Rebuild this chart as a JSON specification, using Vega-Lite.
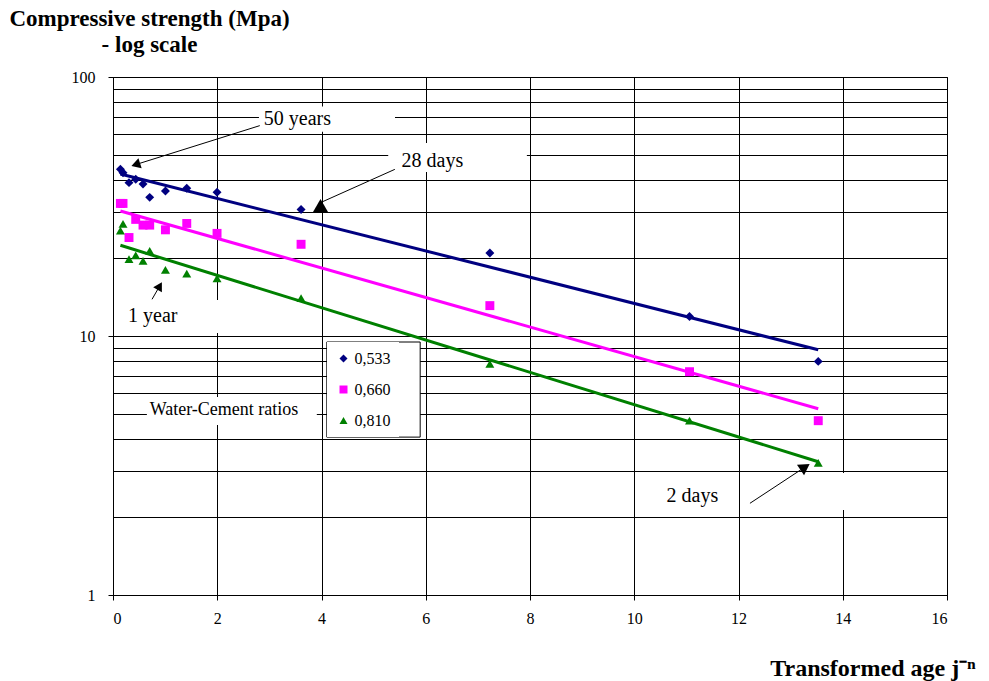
{
  "$schema": "https://vega.github.io/schema/vega-lite/v6.json",
  "width": 834,
  "height": 518,
  "autosize": {"type": "none"},
  "padding": {"left": 113, "top": 77, "right": 42, "bottom": 86},
  "background": "white",
  "config": {
    "view": {"stroke": "black", "strokeWidth": 1},
    "font": "Liberation Serif"
  },
  "datasets": {
    "series": [
      {"ratio": "0,533", "x": 0.142, "y": 44.0},
      {"ratio": "0,533", "x": 0.192, "y": 42.7},
      {"ratio": "0,533", "x": 0.307, "y": 39.1},
      {"ratio": "0,533", "x": 0.436, "y": 40.3},
      {"ratio": "0,533", "x": 0.576, "y": 38.6},
      {"ratio": "0,533", "x": 0.704, "y": 34.3},
      {"ratio": "0,533", "x": 1.006, "y": 36.3},
      {"ratio": "0,533", "x": 1.415, "y": 37.2},
      {"ratio": "0,533", "x": 1.996, "y": 35.9},
      {"ratio": "0,533", "x": 3.608, "y": 30.8},
      {"ratio": "0,533", "x": 7.23, "y": 20.9},
      {"ratio": "0,533", "x": 11.06, "y": 11.9},
      {"ratio": "0,533", "x": 13.53, "y": 7.98},
      {"ratio": "0,660", "x": 0.142, "y": 32.5},
      {"ratio": "0,660", "x": 0.192, "y": 32.5},
      {"ratio": "0,660", "x": 0.307, "y": 24.0},
      {"ratio": "0,660", "x": 0.436, "y": 28.2},
      {"ratio": "0,660", "x": 0.576, "y": 26.8},
      {"ratio": "0,660", "x": 0.704, "y": 26.8},
      {"ratio": "0,660", "x": 1.006, "y": 25.7},
      {"ratio": "0,660", "x": 1.415, "y": 27.2},
      {"ratio": "0,660", "x": 1.996, "y": 24.9},
      {"ratio": "0,660", "x": 3.608, "y": 22.6},
      {"ratio": "0,660", "x": 7.23, "y": 13.1},
      {"ratio": "0,660", "x": 11.06, "y": 7.28},
      {"ratio": "0,660", "x": 13.53, "y": 4.71},
      {"ratio": "0,810", "x": 0.142, "y": 25.5},
      {"ratio": "0,810", "x": 0.192, "y": 27.1},
      {"ratio": "0,810", "x": 0.307, "y": 19.8},
      {"ratio": "0,810", "x": 0.436, "y": 20.5},
      {"ratio": "0,810", "x": 0.576, "y": 19.5},
      {"ratio": "0,810", "x": 0.704, "y": 21.3},
      {"ratio": "0,810", "x": 1.006, "y": 18.0},
      {"ratio": "0,810", "x": 1.415, "y": 17.4},
      {"ratio": "0,810", "x": 1.996, "y": 16.7},
      {"ratio": "0,810", "x": 3.608, "y": 14.0},
      {"ratio": "0,810", "x": 7.23, "y": 7.80},
      {"ratio": "0,810", "x": 11.06, "y": 4.71},
      {"ratio": "0,810", "x": 13.53, "y": 3.24}
    ],
    "trend": [
      {"ratio": "0,533", "x": 0.142, "y": 42.2},
      {"ratio": "0,533", "x": 13.53, "y": 8.85},
      {"ratio": "0,660", "x": 0.142, "y": 30.4},
      {"ratio": "0,660", "x": 13.53, "y": 5.24},
      {"ratio": "0,810", "x": 0.142, "y": 22.4},
      {"ratio": "0,810", "x": 13.53, "y": 3.27}
    ],
    "boxes": [
      {"x": 2.80, "x2": 5.41, "y": 77.0, "y2": 61.5},
      {"x": 5.28, "x2": 7.94, "y": 55.6, "y2": 43.0},
      {"x": 0.09, "x2": 2.09, "y": 13.77, "y2": 10.27},
      {"x": 0.65, "x2": 3.91, "y": 5.81, "y2": 4.53},
      {"x": 13.6, "x2": 14.3, "y": 2.96, "y2": 2.13},
      {"x": 5.40, "x2": 5.893, "y": 9.48, "y2": 4.07}
    ],
    "legendbox": [
      {"x": 4.102, "x2": 5.893, "y": 9.48, "y2": 4.07}
    ],
    "labels": [
      {"x": 2.893, "y": 65.3, "text": "50 years"},
      {"x": 5.536, "y": 44.8, "text": "28 days"},
      {"x": 0.288, "y": 11.36, "text": "1 year"},
      {"x": 10.62, "y": 2.292, "text": "2 days"}
    ],
    "label2": [
      {"x": 0.704, "y": 4.955, "text": "Water-Cement ratios"}
    ],
    "arrows": [
      {"x": 2.816, "y": 64.9, "x2": 0.436, "y2": 45.9},
      {"x": 5.407, "y": 44.0, "x2": 4.006, "y2": 32.9},
      {"x": 0.749, "y": 13.86, "x2": 0.896, "y2": 15.6},
      {"x": 12.22, "y": 2.26, "x2": 13.277, "y2": 3.12}
    ]
  },
  "encoding": {
    "x": {
      "field": "x",
      "type": "quantitative",
      "scale": {"domain": [0, 16], "nice": false, "zero": false},
      "axis": {
        "values": [0, 2, 4, 6, 8, 10, 12, 14, 16],
        "grid": true,
        "gridColor": "black",
        "gridWidth": 1,
        "domainColor": "black",
        "tickColor": "black",
        "tickSize": 5,
        "labelFont": "Liberation Serif",
        "labelFontSize": 16,
        "labelColor": "black",
        "labelPadding": 10,
        "title": "Transformed age j⁻ⁿ",
        "titleFont": "Liberation Serif",
        "titleFontSize": 24,
        "titleFontWeight": "bold",
        "titleColor": "black",
        "titleX": 862,
        "titleY": 80,
        "titleAlign": "right",
        "titleBaseline": "alphabetic"
      }
    },
    "y": {
      "field": "y",
      "type": "quantitative",
      "scale": {"type": "log", "domain": [1, 100], "nice": false},
      "axis": {
        "values": [1, 2, 3, 4, 5, 6, 7, 8, 9, 10, 20, 30, 40, 50, 60, 70, 80, 90, 100],
        "grid": true,
        "gridColor": "black",
        "gridWidth": 1,
        "domainColor": "black",
        "tickColor": {"condition": {"test": "datum.value == 1 || datum.value == 10 || datum.value == 100", "value": "black"}, "value": "transparent"},
        "tickSize": 5,
        "labelExpr": "datum.value == 1 || datum.value == 10 || datum.value == 100 ? format(datum.value, 'd') : ''",
        "labelOverlap": false,
        "labelFont": "Liberation Serif",
        "labelFontSize": 16,
        "labelColor": "black",
        "labelPadding": 13,
        "title": ["Compressive strength (Mpa)", "- log scale"],
        "titleFont": "Liberation Serif",
        "titleFontSize": 23,
        "titleFontWeight": "bold",
        "titleColor": "black",
        "titleAngle": 0,
        "titleAlign": "center",
        "titleBaseline": "alphabetic",
        "titleX": 36,
        "titleY": -52,
        "titleLineHeight": 26
      }
    }
  },
  "layer": [
    {
      "data": {"name": "boxes"},
      "mark": {"type": "rect", "fill": "white", "stroke": null},
      "encoding": {"x2": {"field": "x2"}, "y2": {"field": "y2"}}
    },
    {
      "data": {"name": "legendbox"},
      "mark": {"type": "rect", "fill": null, "fillOpacity": 0, "stroke": "black", "strokeWidth": 1},
      "encoding": {"x2": {"field": "x2"}, "y2": {"field": "y2"}}
    },
    {
      "data": {"name": "trend"},
      "transform": [{"filter": "datum.ratio == '0,533'"}],
      "mark": {"type": "line", "strokeWidth": 3, "color": "#000080"},
      "encoding": {}
    },
    {
      "data": {"name": "trend"},
      "transform": [{"filter": "datum.ratio == '0,660'"}],
      "mark": {"type": "line", "strokeWidth": 3, "color": "#FF00FF"},
      "encoding": {}
    },
    {
      "data": {"name": "trend"},
      "transform": [{"filter": "datum.ratio == '0,810'"}],
      "mark": {"type": "line", "strokeWidth": 3, "color": "#008000"},
      "encoding": {}
    },
    {
      "data": {"name": "series"},
      "mark": {"type": "point", "filled": true, "opacity": 1, "size": 80},
      "encoding": {
        "color": {
          "field": "ratio",
          "type": "nominal",
          "scale": {"domain": ["0,533", "0,660", "0,810"], "range": ["#000080", "#FF00FF", "#008000"]},
          "legend": {
            "orient": "none",
            "legendX": 214,
            "legendY": 265,
            "title": null,
            "padding": 8.5,
            "fillColor": "white",
            "strokeColor": null,
            "labelFont": "Liberation Serif",
            "labelFontSize": 16,
            "labelColor": "black",
            "symbolSize": 64,
            "symbolOffset": 0,
            "rowPadding": 15,
            "labelOffset": 3,
            "symbolStrokeWidth": 0
          }
        },
        "shape": {
          "field": "ratio",
          "type": "nominal",
          "scale": {"domain": ["0,533", "0,660", "0,810"], "range": ["diamond", "square", "triangle-up"]},
          "legend": {
            "orient": "none",
            "legendX": 214,
            "legendY": 265,
            "title": null,
            "padding": 8.5,
            "fillColor": "white",
            "strokeColor": null,
            "labelFont": "Liberation Serif",
            "labelFontSize": 16,
            "labelColor": "black",
            "symbolSize": 64,
            "symbolOffset": 0,
            "rowPadding": 15,
            "labelOffset": 3,
            "symbolStrokeWidth": 0
          }
        }
      }
    },
    {
      "data": {"name": "arrows"},
      "mark": {"type": "rule", "color": "black", "strokeWidth": 1},
      "encoding": {"x2": {"field": "x2"}, "y2": {"field": "y2"}}
    },
    {
      "data": {"values": [{"x": 0.436, "y": 45.9}]},
      "mark": {"type": "point", "shape": "triangle-up", "filled": true, "color": "black", "opacity": 1, "size": 110, "angle": 252}
    },
    {
      "data": {"values": [{"x": 3.981, "y": 31.9}]},
      "mark": {"type": "point", "shape": "triangle-up", "filled": true, "color": "black", "opacity": 1, "size": 225, "angle": 0}
    },
    {
      "data": {"values": [{"x": 0.896, "y": 15.6}]},
      "mark": {"type": "point", "shape": "triangle-up", "filled": true, "color": "black", "opacity": 1, "size": 100, "angle": 30}
    },
    {
      "data": {"values": [{"x": 13.277, "y": 3.12}]},
      "mark": {"type": "point", "shape": "triangle-up", "filled": true, "color": "black", "opacity": 1, "size": 160, "angle": 56}
    },
    {
      "data": {"name": "labels"},
      "mark": {"type": "text", "align": "left", "baseline": "alphabetic", "font": "Liberation Serif", "fontSize": 20, "color": "black"},
      "encoding": {"text": {"field": "text"}}
    },
    {
      "data": {"name": "label2"},
      "mark": {"type": "text", "align": "left", "baseline": "alphabetic", "font": "Liberation Serif", "fontSize": 18, "color": "black"},
      "encoding": {"text": {"field": "text"}}
    }
  ]
}
